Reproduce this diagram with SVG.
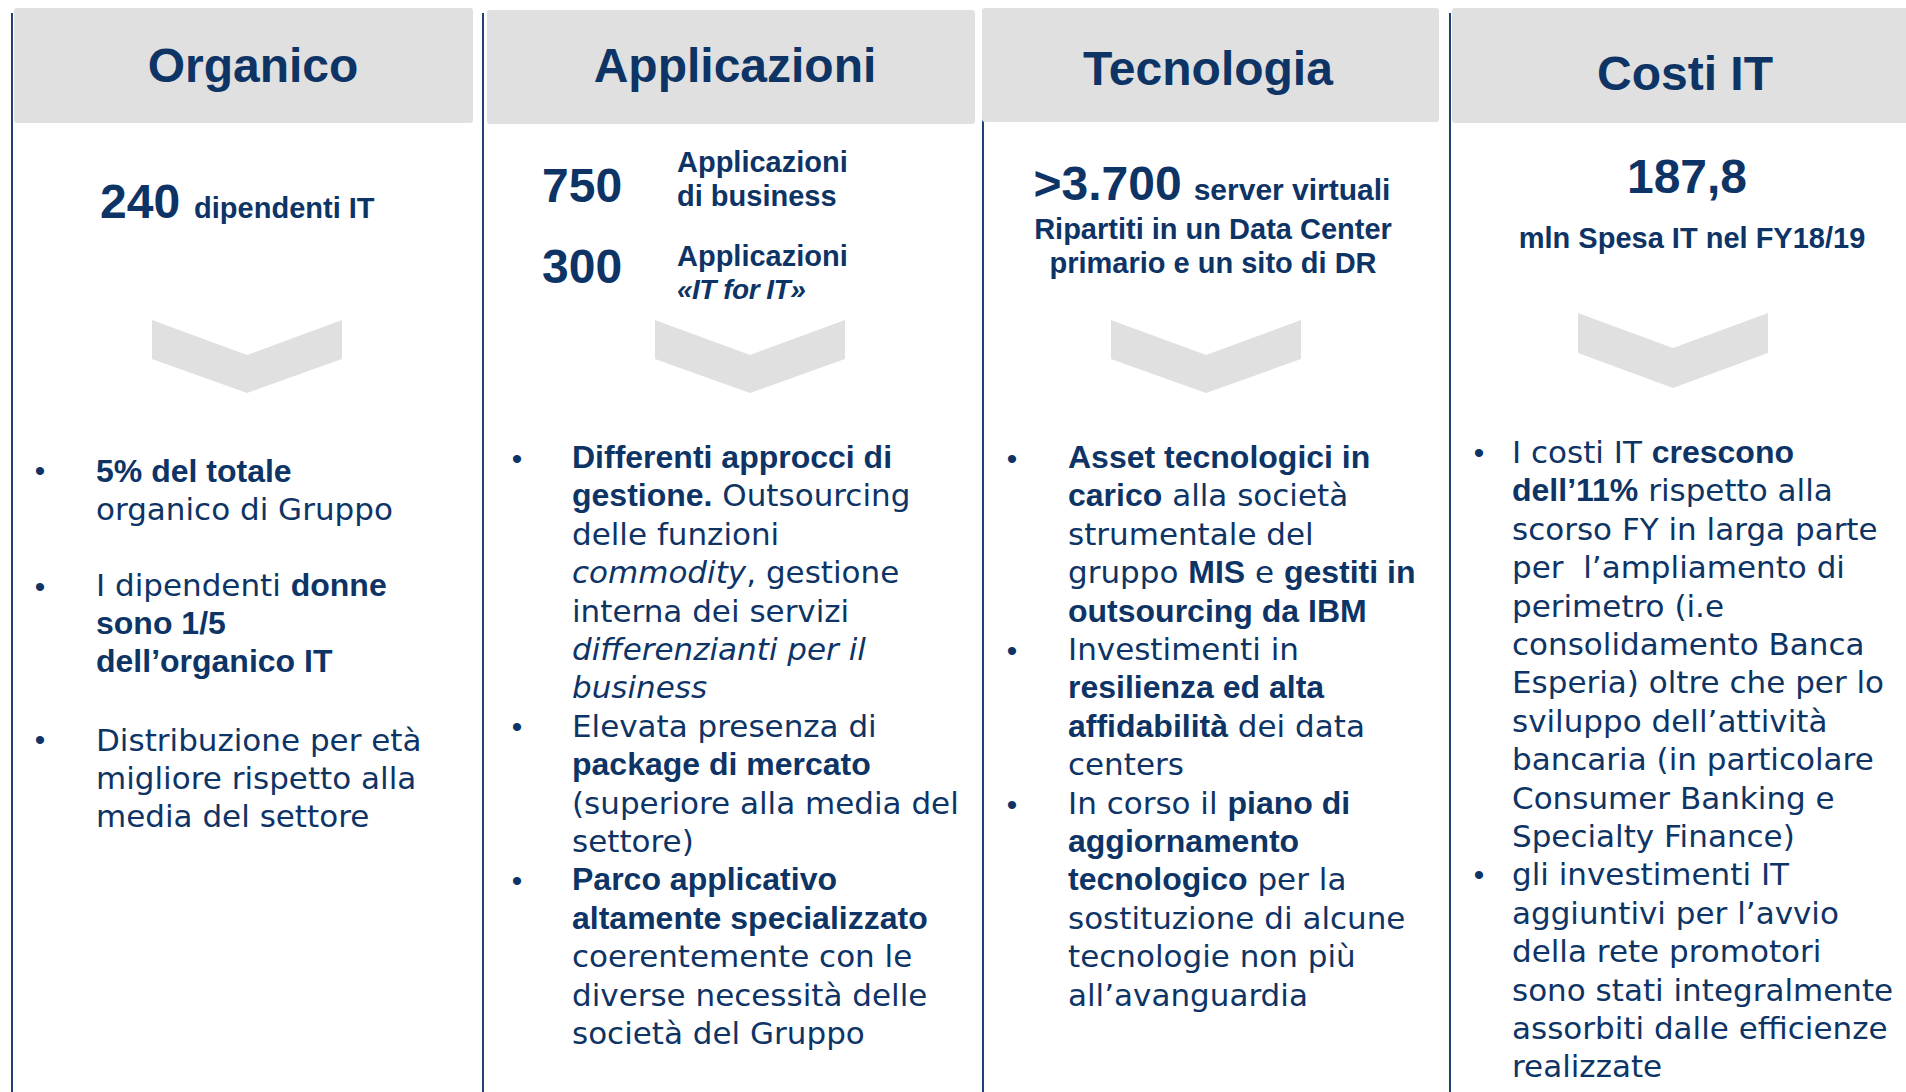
<svg xmlns="http://www.w3.org/2000/svg" width="1906" height="1092" viewBox="0 0 1906 1092">
<style>
.bg{fill:#ffffff}
.hdr{fill:#E0E0E0}
.sep{stroke:#1F4274;stroke-width:2;fill:none}
.chev{fill:#E0E0E0}
.t{font-family:"Liberation Sans",Arial,sans-serif;font-weight:bold;fill:#0E3466}
.title{font-size:48px;text-anchor:middle}
.big{font-size:48px}
.mid{font-size:29px}
.r{font-family:"DejaVu Sans",sans-serif;font-size:31px;fill:#0E3466}
.b{font-family:"Liberation Sans",Arial,sans-serif;font-weight:bold;font-size:32px}
.i{font-style:italic}
.bul{font-family:"Liberation Sans",Arial,sans-serif;font-size:30px;fill:#0E3466;text-anchor:middle}
</style>
<rect class="bg" x="0" y="0" width="1906" height="1092"/>

<g id="separators">
<line class="sep" x1="12" y1="13" x2="12" y2="1092"/>
<line class="sep" x1="483" y1="13" x2="483" y2="1092"/>
<line class="sep" x1="983" y1="13" x2="983" y2="1092"/>
<line class="sep" x1="1450" y1="13" x2="1450" y2="1092"/>
</g>

<g id="connectors">
<polygon class="chev" points="152,320 247,355 342,320 342,359 247,393 152,359"/>
<polygon class="chev" points="655,320 750,355 845,320 845,359 750,393 655,359"/>
<polygon class="chev" points="1111,320 1206,355 1301,320 1301,359 1206,393 1111,359"/>
<polygon class="chev" points="1578,313 1673,348 1768,313 1768,353 1673,388 1578,353"/>
</g>

<g id="organico">
<rect class="hdr" x="14" y="8" width="459" height="115" rx="3"/>
<text class="t title" x="253" y="82">Organico</text>
<text class="t" x="100" y="218"><tspan class="big">240</tspan><tspan class="mid" dx="14">dipendenti IT</tspan></text>
<text class="bul" x="40" y="480.5">•</text>
<text class="bul" x="40" y="596.5">•</text>
<text class="bul" x="40" y="749.5">•</text>
<text class="r" x="96" y="482"><tspan class="b">5% del totale</tspan></text>
<text class="r" x="96" y="520">organico di Gruppo</text>
<text class="r" x="96" y="596">I dipendenti <tspan class="b">donne</tspan></text>
<text class="r" x="96" y="634"><tspan class="b">sono 1/5</tspan></text>
<text class="r" x="96" y="672"><tspan class="b">dell’organico IT</tspan></text>
<text class="r" x="96" y="751">Distribuzione per età</text>
<text class="r" x="96" y="789">migliore rispetto alla</text>
<text class="r" x="96" y="827">media del settore</text>
</g>

<g id="applicazioni">
<rect class="hdr" x="487" y="10" width="488" height="114" rx="3"/>
<text class="t title" x="735" y="82">Applicazioni</text>
<text class="t big" x="542" y="202">750</text>
<text class="t mid" x="677" y="172">Applicazioni</text>
<text class="t mid" x="677" y="206">di business</text>
<text class="t big" x="542" y="283">300</text>
<text class="t mid" x="677" y="266">Applicazioni</text>
<text class="t i" x="677" y="299" font-size="28px" letter-spacing="-0.5px">«IT for IT»</text>
<text class="bul" x="517" y="468.5">•</text>
<text class="bul" x="517" y="736.5">•</text>
<text class="bul" x="517" y="890.5">•</text>
<text class="r" x="572" y="468"><tspan class="b">Differenti approcci di</tspan></text>
<text class="r" x="572" y="506.4"><tspan class="b">gestione.</tspan> Outsourcing</text>
<text class="r" x="572" y="544.8">delle funzioni</text>
<text class="r" x="572" y="583.2"><tspan class="i">commodity</tspan>, gestione</text>
<text class="r" x="572" y="621.6">interna dei servizi</text>
<text class="r i" x="572" y="660">differenzianti per il</text>
<text class="r i" x="572" y="698.4">business</text>
<text class="r" x="572" y="736.8">Elevata presenza di</text>
<text class="r" x="572" y="775.2"><tspan class="b">package di mercato</tspan></text>
<text class="r" x="572" y="813.6">(superiore alla media del</text>
<text class="r" x="572" y="852">settore)</text>
<text class="r" x="572" y="890.4"><tspan class="b">Parco applicativo</tspan></text>
<text class="r" x="572" y="928.8"><tspan class="b">altamente specializzato</tspan></text>
<text class="r" x="572" y="967.2">coerentemente con le</text>
<text class="r" x="572" y="1005.6">diverse necessità delle</text>
<text class="r" x="572" y="1044">società del Gruppo</text>
</g>

<g id="tecnologia">
<rect class="hdr" x="982" y="8" width="457" height="114" rx="3"/>
<text class="t title" x="1208" y="85">Tecnologia</text>
<text class="t" x="1212" y="200" text-anchor="middle"><tspan class="big">&gt;3.700</tspan><tspan font-size="30px" dx="12">server virtuali</tspan></text>
<text class="t mid" x="1213" y="239" text-anchor="middle">Ripartiti in un Data Center</text>
<text class="t mid" x="1213" y="273" text-anchor="middle">primario e un sito di DR</text>
<text class="bul" x="1012" y="468.5">•</text>
<text class="bul" x="1012" y="660.5">•</text>
<text class="bul" x="1012" y="814.5">•</text>
<text class="r" x="1068" y="468"><tspan class="b">Asset tecnologici in</tspan></text>
<text class="r" x="1068" y="506.4"><tspan class="b">carico</tspan> alla società</text>
<text class="r" x="1068" y="544.8">strumentale del</text>
<text class="r" x="1068" y="583.2">gruppo <tspan class="b">MIS</tspan> e <tspan class="b">gestiti in</tspan></text>
<text class="r" x="1068" y="621.6"><tspan class="b">outsourcing da IBM</tspan></text>
<text class="r" x="1068" y="660">Investimenti in</text>
<text class="r" x="1068" y="698.4"><tspan class="b">resilienza ed alta</tspan></text>
<text class="r" x="1068" y="736.8"><tspan class="b">affidabilità</tspan> dei data</text>
<text class="r" x="1068" y="775.2">centers</text>
<text class="r" x="1068" y="813.6">In corso il <tspan class="b">piano di</tspan></text>
<text class="r" x="1068" y="852"><tspan class="b">aggiornamento</tspan></text>
<text class="r" x="1068" y="890.4"><tspan class="b">tecnologico</tspan> per la</text>
<text class="r" x="1068" y="928.8">sostituzione di alcune</text>
<text class="r" x="1068" y="967.2">tecnologie non più</text>
<text class="r" x="1068" y="1005.6">all’avanguardia</text>
</g>

<g id="costi-it">
<rect class="hdr" x="1452" y="8" width="460" height="115" rx="3"/>
<text class="t title" x="1685" y="90">Costi IT</text>
<text class="t big" x="1687" y="193" text-anchor="middle">187,8</text>
<text class="t mid" x="1692" y="248" text-anchor="middle">mln Spesa IT nel FY18/19</text>
<text class="bul" x="1479" y="462.5">•</text>
<text class="bul" x="1479" y="884.5">•</text>
<text class="r" x="1512" y="463">I costi IT <tspan class="b">crescono</tspan></text>
<text class="r" x="1512" y="501.4"><tspan class="b">dell’11%</tspan> rispetto alla</text>
<text class="r" x="1512" y="539.8">scorso FY in larga parte</text>
<text class="r" x="1512" y="578.2" xml:space="preserve">per  l’ampliamento di</text>
<text class="r" x="1512" y="616.6">perimetro (i.e</text>
<text class="r" x="1512" y="655">consolidamento Banca</text>
<text class="r" x="1512" y="693.4">Esperia) oltre che per lo</text>
<text class="r" x="1512" y="731.8">sviluppo dell’attività</text>
<text class="r" x="1512" y="770.2">bancaria (in particolare</text>
<text class="r" x="1512" y="808.6">Consumer Banking e</text>
<text class="r" x="1512" y="847">Specialty Finance)</text>
<text class="r" x="1512" y="885.4">gli investimenti IT</text>
<text class="r" x="1512" y="923.8">aggiuntivi per l’avvio</text>
<text class="r" x="1512" y="962.2">della rete promotori</text>
<text class="r" x="1512" y="1000.6">sono stati integralmente</text>
<text class="r" x="1512" y="1039">assorbiti dalle efficienze</text>
<text class="r" x="1512" y="1077.4">realizzate</text>
</g>
</svg>
